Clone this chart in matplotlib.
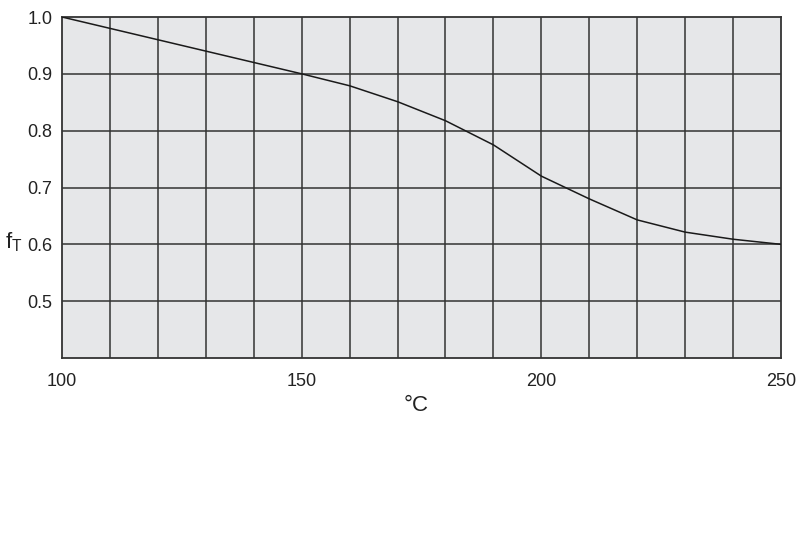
import matplotlib
matplotlib.use("Agg")
import matplotlib.pyplot as plt
import numpy as np

plt.rcParams['font.family'] = ['Liberation Sans', 'DejaVu Sans']

# curve
temps = [100, 110, 120, 130, 140, 150, 160, 170, 180, 190, 200, 210, 220, 230, 240, 250]
f_t = [1.0, 0.98, 0.96, 0.94, 0.92, 0.90, 0.879, 0.851, 0.8175, 0.775, 0.72, 0.68, 0.643, 0.6215, 0.609, 0.60]

x_ticks = [100, 150, 200, 250]
y_ticks = [0.5, 0.6, 0.7, 0.8, 0.9, 1.0]

fig = plt.figure(figsize=(8, 5.33), dpi=100)
ax = fig.add_axes([0.0775, 0.3283, 0.8988, 0.6398])
ax.set_facecolor('#e6e7e9')

ax.set_xlim(100, 250)
ax.set_ylim(0.4, 1.0)

grid_col = '#333333'
for gx in np.arange(110, 250, 10):
    ax.axvline(gx, color=grid_col, lw=1.1, zorder=1)
for gy in np.arange(0.5, 1.0, 0.1):
    ax.axhline(gy, color=grid_col, lw=1.1, zorder=1)

ax.plot(temps, f_t, color='#1a1a1a', lw=1.1, zorder=3)

for s in ax.spines.values():
    s.set_color(grid_col)
    s.set_linewidth(1.3)

ax.set_xticks(x_ticks)
ax.set_yticks(y_ticks)
ax.set_yticklabels(['%.1f' % v for v in y_ticks])
ax.tick_params(length=0, labelsize=13, colors='#222222')
ax.tick_params(axis='x', pad=11)
ax.tick_params(axis='y', pad=7)

fig.text(0.006, 0.545, r'f$_\mathregular{T}$', fontsize=16, color='#222222', va='center')
fig.text(0.52, 0.24, '°C', fontsize=16, color='#222222', ha='center', va='center')

fig.savefig('out.png', dpi=100)
